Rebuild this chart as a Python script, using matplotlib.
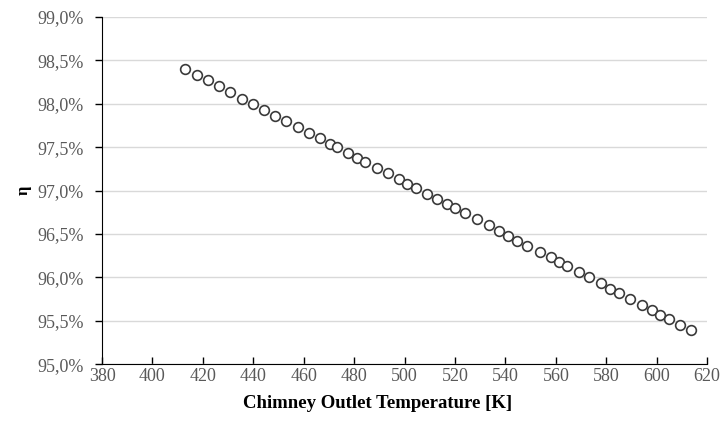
import numpy as np
import matplotlib.pyplot as plt
from matplotlib.ticker import FuncFormatter, MultipleLocator

# chimney outlet temperature [K] and efficiency [%]
temp = [412.9, 417.6, 421.9, 426.4, 430.8, 435.4, 439.8, 444.3, 448.7, 453.1,
        457.7, 462.1, 466.5, 470.4, 473.3, 477.7, 481.1, 484.4, 489.0, 493.3,
        497.6, 501.0, 504.7, 509.0, 512.9, 516.9, 520.1, 524.0, 528.7, 533.3,
        537.5, 541.1, 544.7, 548.7, 553.8, 557.9, 561.3, 564.6, 569.2, 573.3,
        577.9, 581.4, 585.1, 589.5, 594.2, 598.1, 601.4, 604.7, 609.4, 613.6]
eta = [98.40, 98.33, 98.27, 98.20, 98.13, 98.06, 98.00, 97.93, 97.86, 97.80,
       97.73, 97.66, 97.60, 97.54, 97.50, 97.43, 97.38, 97.33, 97.26, 97.20,
       97.13, 97.08, 97.03, 96.96, 96.90, 96.84, 96.80, 96.74, 96.67, 96.60,
       96.53, 96.48, 96.42, 96.36, 96.29, 96.23, 96.18, 96.13, 96.06, 96.00,
       95.93, 95.87, 95.82, 95.75, 95.68, 95.62, 95.57, 95.52, 95.45, 95.39]

plt.rcParams['font.family'] = ['Liberation Serif', 'DejaVu Serif']

fig = plt.figure(figsize=(7.26, 4.34), dpi=100)
ax = fig.add_axes([0.1405, 0.161, 0.8335, 0.8])

ax.plot(temp, eta, linestyle="none", marker="o", markersize=7,
        markerfacecolor="white", markeredgecolor="#3a3a3a", markeredgewidth=1.2)

ax.set_xlim(380, 620)
ax.set_ylim(95.0, 99.0)
ax.xaxis.set_major_locator(MultipleLocator(20))
ax.yaxis.set_major_locator(MultipleLocator(0.5))
ax.yaxis.set_major_formatter(FuncFormatter(lambda v, p: ("%.1f%%" % v).replace(".", ",")))

ax.grid(axis="y", color="#d9d9d9", linewidth=1)
ax.set_axisbelow(True)
for s in ["top", "right"]:
    ax.spines[s].set_visible(False)
ax.spines["left"].set_color("black")
ax.spines["bottom"].set_color("black")

ax.tick_params(axis="x", direction="in", length=5, width=1, colors="black",
               labelcolor="#595959", labelsize=13, pad=3)
ax.tick_params(axis="y", direction="out", length=5, width=1, colors="black",
               labelcolor="#595959", labelsize=13, pad=8)

ax.set_xlabel("Chimney Outlet Temperature [K]", fontsize=13.5, fontweight="bold")
ax.xaxis.set_label_coords(0.455, -0.09)
ax.set_ylabel("η", fontsize=12, fontweight="bold", labelpad=4)

fig.savefig("out.png", dpi=100)
